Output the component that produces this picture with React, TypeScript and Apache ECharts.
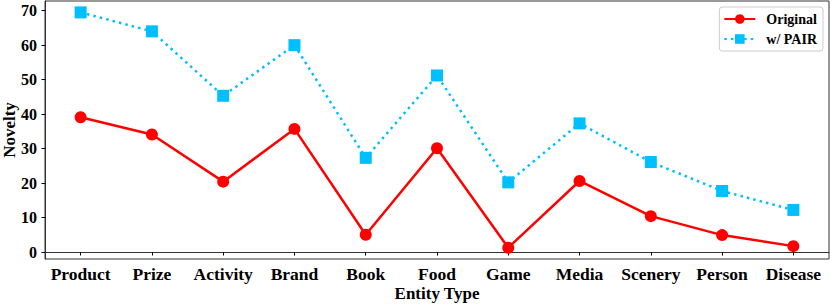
import React, { useEffect, useRef } from "react";
import * as echarts from "echarts";

const categories = ["Product", "Prize", "Activity", "Brand", "Book", "Food", "Game", "Media", "Scenery", "Person", "Disease"];
const originalValues = [39.1, 34.1, 20.4, 35.7, 5.0, 30.1, 1.25, 20.6, 10.4, 4.9, 1.7];
const pairValues = [69.5, 64.0, 45.3, 60.0, 27.3, 51.2, 20.2, 37.3, 26.1, 17.7, 12.2];
const yTicks = [0, 10, 20, 30, 40, 50, 60, 70];

const FONT = "'Liberation Serif', 'Times New Roman', serif";

export default function App() {
  const ref = useRef<HTMLDivElement>(null);
  useEffect(() => {
    if (!ref.current) return;
    const chart = echarts.init(ref.current, undefined, { renderer: "svg" });
    chart.setOption({
      animation: false,
      backgroundColor: "#ffffff",
      grid: {
        left: 45,
        right: 1,
        top: 1,
        bottom: 45,
        containLabel: false,
        outerBoundsMode: "none",
        show: true,
        borderColor: "#333333",
        borderWidth: 1,
        backgroundColor: "transparent",
      },
      legend: {
        right: 7,
        top: 7,
        orient: "vertical",
        align: "left",
        itemWidth: 31,
        itemHeight: 12,
        itemGap: 4,
        padding: [4, 6, 4, 4],
        borderColor: "#cccccc",
        borderWidth: 1,
        borderRadius: 3,
        backgroundColor: "rgba(255,255,255,0.8)",
        textStyle: {
          fontFamily: FONT,
          fontWeight: "bold",
          fontSize: 14,
          color: "#000",
          lineHeight: 16,
          padding: [0, 0, 0, 6],
        },
        data: ["Original", "w/ PAIR"],
      },
      xAxis: {
        type: "category",
        data: categories,
        boundaryGap: true,
        name: "Entity Type",
        nameLocation: "middle",
        nameGap: 26,
        nameMoveOverlap: false,
        nameTextStyle: { fontFamily: FONT, fontWeight: "bold", fontSize: 17, color: "#000" },
        axisLine: { show: true, lineStyle: { color: "#333", width: 1 } },
        axisTick: { show: true, alignWithLabel: true, length: 3.5, lineStyle: { color: "#000", width: 1 } },
        axisLabel: { fontFamily: FONT, fontWeight: "bold", fontSize: 17.5, color: "#000", margin: 6, interval: 0 },
        splitLine: { show: false },
      },
      yAxis: {
        type: "value",
        min: -2.03,
        max: 72.8,
        name: "Novelty",
        nameLocation: "middle",
        nameGap: 28,
        nameMoveOverlap: false,
        nameTextStyle: { fontFamily: FONT, fontWeight: "bold", fontSize: 17, color: "#000", lineHeight: 15 },
        axisLine: { show: true, lineStyle: { color: "#333", width: 1 } },
        axisTick: { show: true, length: 3.5, customValues: yTicks, lineStyle: { color: "#000", width: 1 } },
        axisLabel: { fontFamily: FONT, fontWeight: "bold", fontSize: 16, color: "#000", margin: 8, customValues: yTicks },
        splitLine: { show: false },
      },
      series: [
        {
          name: "Original",
          type: "line",
          data: originalValues,
          symbol: "circle",
          symbolSize: 12,
          color: "#ff0000",
          itemStyle: { color: "#ff0000" },
          lineStyle: { color: "#ff0000", width: 2.5 },
          z: 3,
        },
        {
          name: "w/ PAIR",
          type: "line",
          data: pairValues,
          symbol: "rect",
          symbolSize: 12,
          color: "#00bfff",
          itemStyle: { color: "#00bfff" },
          lineStyle: { color: "#00bfff", width: 2.5, type: [2.5, 4.1] },
          z: 2,
        },
      ],
    });
    return () => chart.dispose();
  }, []);
  return <div ref={ref} style={{ position: "fixed", left: 0, top: 0, width: 830, height: 304 }} />;
}
